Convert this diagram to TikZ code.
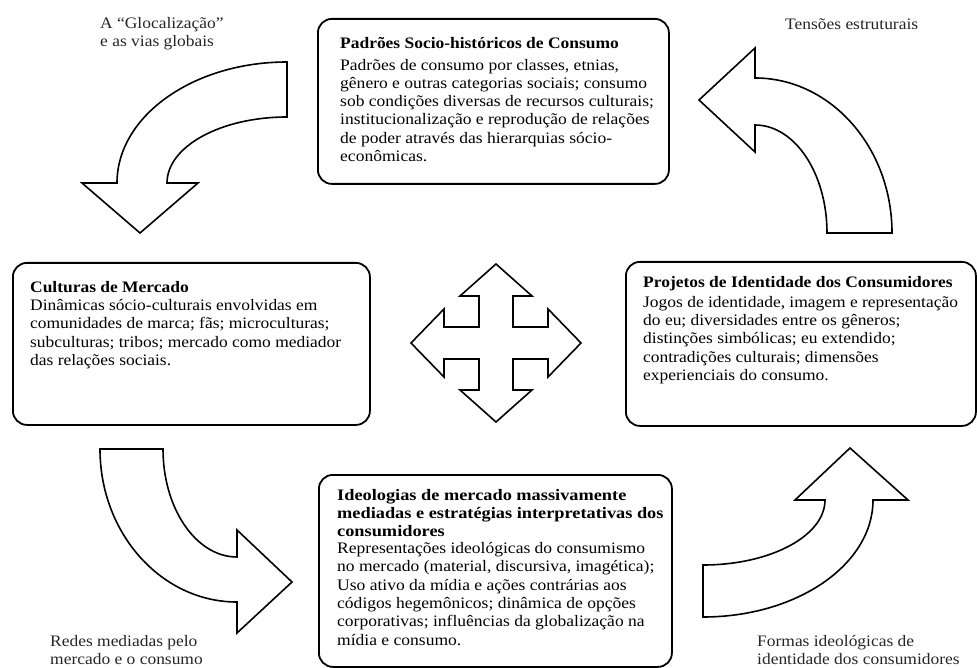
\documentclass[tikz,border=0pt]{standalone}
\usepackage{fontspec}
\setmainfont{Liberation Serif}[FakeStretch=1.09]
\newfontfamily\largo{Liberation Serif}[FakeStretch=1.095]
\newfontfamily\medio{Liberation Serif}[FakeStretch=1.145]
\usepackage{tikz}

\begin{document}
\begin{tikzpicture}[x=1pt,y=-1pt,
  caixa/.style={draw,line width=1.8pt,rounded corners=14pt,anchor=north west,inner sep=0pt},
  texto/.style={anchor=north west,align=left,inner sep=0pt,font=\fontsize{16}{18.3}\selectfont},
  rotulo/.style={texto,text=black!85},
  seta/.style={draw,line width=1.6pt,fill=white,line join=miter}]
\fill[white] (0,0) rectangle (977,668);
\useasboundingbox (0,0) rectangle (977,668);

% as quatro caixas
\node[caixa,minimum width=351pt,minimum height=165pt] (padroes) at (317,18) {};
\node[caixa,minimum width=357pt,minimum height=162pt] (culturas) at (12,262) {};
\node[caixa,minimum width=350pt,minimum height=164pt] (projetos) at (625,261) {};
\node[caixa,minimum width=353pt,minimum height=192pt] (ideologias) at (318,474) {};

\node[texto] (tpadroes) at ([shift={(23,19)}]padroes.north west)
{\textbf{Padrões Socio-históricos de Consumo}\\[3.4pt]
{\largo Padrões de consumo por classes, etnias,}\\
{\largo gênero e outras categorias sociais; consumo}\\
{\largo sob condições diversas de recursos culturais;}\\
{\largo institucionalização e reprodução de relações}\\
{\largo de poder através das hierarquias sócio-}\\
{\largo econômicas.}};
\node[texto] (tculturas) at ([shift={(18,19)}]culturas.north west)
{\textbf{Culturas de Mercado}\\
Dinâmicas sócio-culturais envolvidas em\\
comunidades de marca; fãs; microculturas;\\
subculturas; tribos; mercado como mediador\\
das relações sociais.};
\node[texto] (tprojetos) at ([shift={(18,15)}]projetos.north west)
{\textbf{Projetos de Identidade dos Consumidores}\\[1.7pt]
Jogos de identidade, imagem e representação\\
do eu; diversidades entre os gêneros;\\
distinções simbólicas; eu extendido;\\
contradições culturais; dimensões\\
experienciais do consumo.};
\node[texto] (tideologias) at ([shift={(19,15)}]ideologias.north west)
{\medio\textbf{Ideologias de mercado massivamente}\\
\medio\textbf{mediadas e estratégias interpretativas dos}\\
\medio\textbf{consumidores}\\[-1.6pt]
\largo Representações ideológicas do consumismo\\
\largo no mercado (material, discursiva, imagética);\\
\largo Uso ativo da mídia e ações contrárias aos\\
\largo códigos hegemônicos; dinâmica de opções\\
\largo corporativas; influências da globalização na\\
\largo mídia e consumo.};

% rotulos dos cantos
\node[rotulo] (glocal) at (100,17) {A “Glocalização”\\e as vias globais};
\node[rotulo] (tensoes) at (785,19) {Tensões estruturais};
\node[rotulo] (redes) at (50,635) {Redes mediadas pelo\\mercado e o consumo};
\node[rotulo] (formas) at (757,635) {Formas ideológicas de\\identidade dos consumidores};

% setas curvas
\draw[seta] (287,62) arc[start angle=270,end angle=180,x radius=170,y radius=121]
  -- (82,183) -- (140,233) -- (198,183) -- (167,183)
  arc[start angle=180,end angle=270,x radius=120,y radius=66] -- cycle;
\draw[seta] (892,233) arc[start angle=0,end angle=-90,x radius=137,y radius=155]
  -- (755,48) -- (699,100) -- (755,152) -- (755,125)
  arc[start angle=-90,end angle=0,x radius=72,y radius=108] -- cycle;
\draw[seta] (100,449) arc[start angle=180,end angle=90,x radius=137,y radius=153]
  -- (237,633) -- (292,582) -- (237,530) -- (237,557)
  arc[start angle=90,end angle=180,x radius=74,y radius=108] -- cycle;
\draw[seta] (703,617) arc[start angle=90,end angle=0,x radius=170,y radius=117]
  -- (908,500) -- (850,448) -- (795,500) -- (825,500)
  arc[start angle=0,end angle=90,x radius=122,y radius=65] -- cycle;

% seta de quatro pontas
\draw[seta,shift={(496,343)}] (0,-79) -- (36,-47) -- (17,-47) -- (17,-16) -- (52,-16)
  -- (52,-34) -- (85,0) -- (52,34) -- (52,16) -- (17,16) -- (17,47) -- (36,47)
  -- (0,79) -- (-36,47) -- (-17,47) -- (-17,16) -- (-52,16) -- (-52,34) -- (-85,0)
  -- (-52,-34) -- (-52,-16) -- (-17,-16) -- (-17,-47) -- (-36,-47) -- cycle;
\end{tikzpicture}
\end{document}
